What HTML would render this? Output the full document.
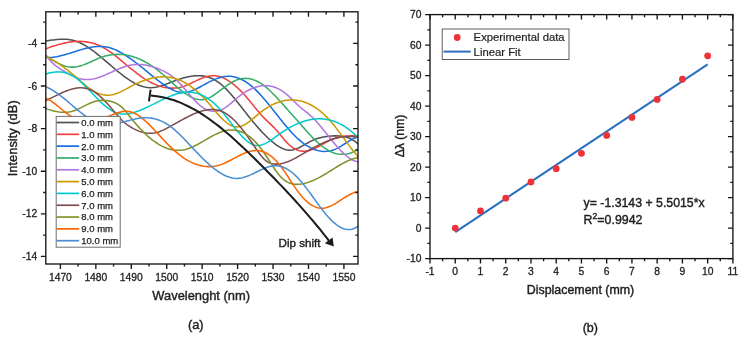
<!DOCTYPE html><html><head><meta charset="utf-8"><style>html,body{margin:0;padding:0;background:#fff;}svg{display:block;will-change:transform;}text{font-family:"Liberation Sans", sans-serif;fill:#1e1e1e;stroke:#1e1e1e;stroke-width:0.4px;}</style></head><body>
<svg width="744" height="339" viewBox="0 0 744 339">
<rect width="744" height="339" fill="#fff"/>
<defs><clipPath id="ca"><rect x="45.8" y="11.8" width="312.2" height="252.2"/></clipPath></defs>
<g clip-path="url(#ca)" fill="none" stroke-width="1.55" stroke-linejoin="round" stroke-linecap="round">
<path stroke="#515151" d="M43,41.3 44.5,41.11 46,40.91 47.5,40.71 49,40.5 50.5,40.29 52,40.09 53.5,39.9 55,39.72 56.5,39.57 58,39.43 59.5,39.33 61,39.25 62.5,39.21 64,39.21 65.5,39.25 67,39.35 68.5,39.49 70,39.69 71.5,39.96 73,40.29 74.5,40.69 76,41.16 77.5,41.71 79,42.32 80.5,43 82,43.74 83.5,44.54 85,45.39 86.5,46.3 88,47.26 89.5,48.26 91,49.3 92.5,50.38 94,51.5 95.5,52.65 97,53.83 98.5,55.04 100,56.26 101.5,57.51 103,58.77 104.5,60.05 106,61.33 107.5,62.62 109,63.92 110.5,65.21 112,66.5 113.5,67.78 115,69.05 116.5,70.3 118,71.54 119.5,72.76 121,73.95 122.5,75.12 124,76.26 125.5,77.36 127,78.42 128.5,79.45 130,80.43 131.5,81.36 133,82.24 134.5,83.07 136,83.84 137.5,84.55 139,85.2 140.5,85.78 142,86.29 143.5,86.72 145,87.08 146.5,87.36 148,87.55 149.5,87.66 151,87.67 152.5,87.6 154,87.45 155.5,87.23 157,86.94 158.5,86.59 160,86.19 161.5,85.74 163,85.25 164.5,84.73 166,84.19 167.5,83.63 169,83.06 170.5,82.48 172,81.91 173.5,81.35 175,80.79 176.5,80.25 178,79.73 179.5,79.22 181,78.74 182.5,78.28 184,77.85 185.5,77.45 187,77.08 188.5,76.75 190,76.46 191.5,76.21 193,76 194.5,75.84 196,75.74 197.5,75.69 199,75.69 200.5,75.76 202,75.88 203.5,76.08 205,76.34 206.5,76.68 208,77.09 209.5,77.59 211,78.16 212.5,78.82 214,79.56 215.5,80.4 217,81.33 218.5,82.36 220,83.49 221.5,84.71 223,86.02 224.5,87.42 226,88.9 227.5,90.45 229,92.06 230.5,93.73 232,95.46 233.5,97.23 235,99.04 236.5,100.89 238,102.77 239.5,104.67 241,106.58 242.5,108.51 244,110.43 245.5,112.36 247,114.28 248.5,116.18 250,118.06 251.5,119.91 253,121.74 254.5,123.54 256,125.3 257.5,127.03 259,128.72 260.5,130.38 262,131.99 263.5,133.56 265,135.08 266.5,136.55 268,137.97 269.5,139.35 271,140.66 272.5,141.92 274,143.12 275.5,144.26 277,145.32 278.5,146.3 280,147.19 281.5,147.98 283,148.66 284.5,149.23 286,149.67 287.5,149.98 289,150.14 290.5,150.16 292,150.02 293.5,149.74 295,149.32 296.5,148.79 298,148.17 299.5,147.46 301,146.69 302.5,145.87 304,145.02 305.5,144.16 307,143.3 308.5,142.46 310,141.65 311.5,140.9 313,140.21 314.5,139.59 316,139.02 317.5,138.51 319,138.06 320.5,137.66 322,137.31 323.5,137 325,136.74 326.5,136.51 328,136.33 329.5,136.17 331,136.05 332.5,135.96 334,135.89 335.5,135.85 337,135.86 338.5,135.9 340,136 341.5,136.16 343,136.38 344.5,136.68 346,137.06 347.5,137.52 349,138.09 350.5,138.75 352,139.53 353.5,140.42 355,141.43 356.5,142.58 358,143.87 359.5,145.3"/>
<path stroke="#F14040" d="M43,49.81 44.5,49.25 46,48.7 47.5,48.16 49,47.62 50.5,47.1 52,46.6 53.5,46.1 55,45.63 56.5,45.17 58,44.73 59.5,44.31 61,43.92 62.5,43.54 64,43.19 65.5,42.87 67,42.58 68.5,42.31 70,42.08 71.5,41.87 73,41.7 74.5,41.56 76,41.46 77.5,41.4 79,41.38 80.5,41.39 82,41.45 83.5,41.55 85,41.69 86.5,41.88 88,42.12 89.5,42.4 91,42.74 92.5,43.13 94,43.56 95.5,44.06 97,44.61 98.5,45.21 100,45.88 101.5,46.6 103,47.39 104.5,48.23 106,49.13 107.5,50.08 109,51.07 110.5,52.11 112,53.19 113.5,54.31 115,55.46 116.5,56.63 118,57.83 119.5,59.05 121,60.28 122.5,61.53 124,62.78 125.5,64.04 127,65.3 128.5,66.56 130,67.81 131.5,69.04 133,70.27 134.5,71.47 136,72.65 137.5,73.8 139,74.93 140.5,76.01 142,77.06 143.5,78.07 145,79.04 146.5,79.96 148,80.84 149.5,81.68 151,82.47 152.5,83.21 154,83.91 155.5,84.55 157,85.15 158.5,85.69 160,86.19 161.5,86.63 163,87.02 164.5,87.35 166,87.62 167.5,87.84 169,88 170.5,88.1 172,88.14 173.5,88.12 175,88.04 176.5,87.9 178,87.69 179.5,87.41 181,87.07 182.5,86.66 184,86.18 185.5,85.64 187,85.05 188.5,84.41 190,83.74 191.5,83.04 193,82.32 194.5,81.59 196,80.87 197.5,80.16 199,79.47 200.5,78.8 202,78.18 203.5,77.6 205,77.08 206.5,76.63 208,76.26 209.5,75.96 211,75.77 212.5,75.67 214,75.69 215.5,75.8 217,76.02 218.5,76.33 220,76.74 221.5,77.25 223,77.84 224.5,78.53 226,79.3 227.5,80.15 229,81.08 230.5,82.1 232,83.19 233.5,84.35 235,85.58 236.5,86.88 238,88.25 239.5,89.68 241,91.17 242.5,92.73 244,94.33 245.5,95.99 247,97.71 248.5,99.47 250,101.27 251.5,103.12 253,104.99 254.5,106.86 256,108.73 257.5,110.57 259,112.36 260.5,114.1 262,115.77 263.5,117.35 265,118.86 266.5,120.33 268,121.76 269.5,123.18 271,124.62 272.5,126.08 274,127.59 275.5,129.18 277,130.84 278.5,132.6 280,134.42 281.5,136.27 283,138.1 284.5,139.9 286,141.61 287.5,143.22 289,144.68 290.5,145.99 292,147.13 293.5,148.12 295,148.97 296.5,149.67 298,150.23 299.5,150.66 301,150.95 302.5,151.13 304,151.18 305.5,151.12 307,150.94 308.5,150.67 310,150.29 311.5,149.81 313,149.24 314.5,148.6 316,147.89 317.5,147.12 319,146.32 320.5,145.48 322,144.62 323.5,143.75 325,142.89 326.5,142.05 328,141.23 329.5,140.46 331,139.74 332.5,139.08 334,138.5 335.5,138 337,137.56 338.5,137.19 340,136.87 341.5,136.61 343,136.4 344.5,136.23 346,136.09 347.5,135.99 349,135.92 350.5,135.86 352,135.83 353.5,135.8 355,135.78 356.5,135.75 358,135.72 359.5,135.68"/>
<path stroke="#1A6FDF" d="M43,57.33 44.5,57.48 46,57.56 47.5,57.59 49,57.56 50.5,57.48 52,57.35 53.5,57.18 55,56.96 56.5,56.71 58,56.41 59.5,56.09 61,55.74 62.5,55.36 64,54.95 65.5,54.53 67,54.09 68.5,53.63 70,53.17 71.5,52.69 73,52.21 74.5,51.74 76,51.26 77.5,50.79 79,50.32 80.5,49.87 82,49.43 83.5,49.01 85,48.61 86.5,48.23 88,47.88 89.5,47.56 91,47.28 92.5,47.03 94,46.82 95.5,46.65 97,46.53 98.5,46.45 100,46.43 101.5,46.47 103,46.56 104.5,46.71 106,46.93 107.5,47.22 109,47.58 110.5,48 112,48.48 113.5,49.03 115,49.63 116.5,50.29 118,51.01 119.5,51.77 121,52.58 122.5,53.44 124,54.34 125.5,55.28 127,56.25 128.5,57.26 130,58.31 131.5,59.38 133,60.48 134.5,61.61 136,62.75 137.5,63.92 139,65.1 140.5,66.29 142,67.5 143.5,68.72 145,69.94 146.5,71.16 148,72.39 149.5,73.62 151,74.84 152.5,76.05 154,77.25 155.5,78.45 157,79.62 158.5,80.78 160,81.92 161.5,83.03 163,84.11 164.5,85.15 166,86.15 167.5,87.1 169,87.99 170.5,88.81 172,89.57 173.5,90.26 175,90.86 176.5,91.38 178,91.8 179.5,92.12 181,92.34 182.5,92.45 184,92.45 185.5,92.33 187,92.1 188.5,91.78 190,91.36 191.5,90.87 193,90.31 194.5,89.69 196,89.01 197.5,88.28 199,87.52 200.5,86.73 202,85.92 203.5,85.1 205,84.28 206.5,83.46 208,82.66 209.5,81.88 211,81.13 212.5,80.42 214,79.75 215.5,79.13 217,78.56 218.5,78.04 220,77.58 221.5,77.18 223,76.85 224.5,76.59 226,76.4 227.5,76.29 229,76.27 230.5,76.33 232,76.48 233.5,76.72 235,77.04 236.5,77.45 238,77.95 239.5,78.53 241,79.19 242.5,79.93 244,80.75 245.5,81.65 247,82.63 248.5,83.69 250,84.83 251.5,86.03 253,87.32 254.5,88.67 256,90.1 257.5,91.6 259,93.16 260.5,94.77 262,96.44 263.5,98.15 265,99.91 266.5,101.7 268,103.52 269.5,105.38 271,107.25 272.5,109.14 274,111.04 275.5,112.94 277,114.85 278.5,116.76 280,118.65 281.5,120.53 283,122.39 284.5,124.23 286,126.04 287.5,127.82 289,129.55 290.5,131.24 292,132.89 293.5,134.47 295,136 296.5,137.47 298,138.86 299.5,140.19 301,141.45 302.5,142.64 304,143.76 305.5,144.81 307,145.78 308.5,146.68 310,147.5 311.5,148.25 313,148.93 314.5,149.52 316,150.04 317.5,150.47 319,150.83 320.5,151.1 322,151.29 323.5,151.4 325,151.42 326.5,151.35 328,151.2 329.5,150.96 331,150.64 332.5,150.22 334,149.71 335.5,149.11 337,148.42 338.5,147.64 340,146.79 341.5,145.89 343,144.95 344.5,143.99 346,143.02 347.5,142.06 349,141.13 350.5,140.24 352,139.4 353.5,138.64 355,137.97 356.5,137.4 358,136.95 359.5,136.64"/>
<path stroke="#37AD6B" d="M43,53.97 44.5,54.97 46,55.96 47.5,56.94 49,57.91 50.5,58.87 52,59.79 53.5,60.69 55,61.55 56.5,62.37 58,63.15 59.5,63.87 61,64.54 62.5,65.14 64,65.68 65.5,66.14 67,66.52 68.5,66.82 70,67.02 71.5,67.13 73,67.14 74.5,67.06 76,66.87 77.5,66.61 79,66.27 80.5,65.86 82,65.39 83.5,64.87 85,64.3 86.5,63.69 88,63.05 89.5,62.4 91,61.72 92.5,61.04 94,60.36 95.5,59.69 97,59.04 98.5,58.41 100,57.81 101.5,57.26 103,56.74 104.5,56.28 106,55.87 107.5,55.51 109,55.2 110.5,54.93 112,54.72 113.5,54.55 115,54.43 116.5,54.36 118,54.33 119.5,54.36 121,54.43 122.5,54.54 124,54.71 125.5,54.92 127,55.17 128.5,55.48 130,55.82 131.5,56.22 133,56.66 134.5,57.14 136,57.67 137.5,58.24 139,58.86 140.5,59.52 142,60.22 143.5,60.97 145,61.76 146.5,62.59 148,63.47 149.5,64.39 151,65.35 152.5,66.35 154,67.4 155.5,68.48 157,69.61 158.5,70.78 160,71.99 161.5,73.24 163,74.52 164.5,75.83 166,77.17 167.5,78.51 169,79.87 170.5,81.24 172,82.59 173.5,83.94 175,85.28 176.5,86.59 178,87.88 179.5,89.13 181,90.35 182.5,91.51 184,92.63 185.5,93.68 187,94.68 188.5,95.6 190,96.44 191.5,97.2 193,97.87 194.5,98.45 196,98.93 197.5,99.29 199,99.55 200.5,99.68 202,99.68 203.5,99.56 205,99.29 206.5,98.89 208,98.35 209.5,97.68 211,96.89 212.5,95.99 214,95 215.5,93.95 217,92.84 218.5,91.7 220,90.56 221.5,89.42 223,88.29 224.5,87.18 226,86.1 227.5,85.06 229,84.07 230.5,83.13 232,82.25 233.5,81.45 235,80.73 236.5,80.09 238,79.56 239.5,79.12 241,78.79 242.5,78.55 244,78.41 245.5,78.37 247,78.43 248.5,78.58 250,78.83 251.5,79.18 253,79.61 254.5,80.15 256,80.77 257.5,81.48 259,82.29 260.5,83.19 262,84.17 263.5,85.24 265,86.4 266.5,87.63 268,88.93 269.5,90.3 271,91.72 272.5,93.2 274,94.73 275.5,96.29 277,97.89 278.5,99.52 280,101.17 281.5,102.84 283,104.52 284.5,106.21 286,107.89 287.5,109.57 289,111.24 290.5,112.91 292,114.57 293.5,116.24 295,117.91 296.5,119.58 298,121.27 299.5,122.98 301,124.69 302.5,126.41 304,128.13 305.5,129.84 307,131.53 308.5,133.2 310,134.84 311.5,136.43 313,137.98 314.5,139.48 316,140.92 317.5,142.3 319,143.63 320.5,144.89 322,146.09 323.5,147.22 325,148.28 326.5,149.26 328,150.16 329.5,150.99 331,151.73 332.5,152.38 334,152.94 335.5,153.42 337,153.79 338.5,154.07 340,154.26 341.5,154.35 343,154.34 344.5,154.24 346,154.06 347.5,153.78 349,153.41 350.5,152.95 352,152.4 353.5,151.77 355,151.04 356.5,150.24 358,149.35 359.5,148.37"/>
<path stroke="#B177DE" d="M43,50.51 44.5,52.97 46,55.21 47.5,57.27 49,59.14 50.5,60.85 52,62.41 53.5,63.83 55,65.14 56.5,66.34 58,67.44 59.5,68.48 61,69.45 62.5,70.37 64,71.26 65.5,72.14 67,72.99 68.5,73.82 70,74.62 71.5,75.38 73,76.09 74.5,76.76 76,77.37 77.5,77.92 79,78.4 80.5,78.8 82,79.13 83.5,79.36 85,79.51 86.5,79.57 88,79.55 89.5,79.45 91,79.28 92.5,79.04 94,78.74 95.5,78.38 97,77.96 98.5,77.5 100,76.99 101.5,76.44 103,75.86 104.5,75.25 106,74.61 107.5,73.95 109,73.28 110.5,72.6 112,71.92 113.5,71.23 115,70.55 116.5,69.89 118,69.24 119.5,68.61 121,68.01 122.5,67.44 124,66.91 125.5,66.42 127,65.97 128.5,65.58 130,65.25 131.5,64.98 133,64.77 134.5,64.61 136,64.51 137.5,64.46 139,64.47 140.5,64.53 142,64.64 143.5,64.8 145,65 146.5,65.26 148,65.56 149.5,65.91 151,66.29 152.5,66.72 154,67.2 155.5,67.71 157,68.26 158.5,68.84 160,69.47 161.5,70.13 163,70.83 164.5,71.59 166,72.4 167.5,73.27 169,74.21 170.5,75.22 172,76.3 173.5,77.46 175,78.71 176.5,80.06 178,81.49 179.5,83.02 181,84.63 182.5,86.29 184,88.01 185.5,89.75 187,91.52 188.5,93.29 190,95.05 191.5,96.78 193,98.47 194.5,100.11 196,101.67 197.5,103.16 199,104.54 200.5,105.81 202,106.96 203.5,107.97 205,108.85 206.5,109.6 208,110.21 209.5,110.7 211,111.04 212.5,111.26 214,111.33 215.5,111.27 217,111.08 218.5,110.75 220,110.28 221.5,109.68 223,108.95 224.5,108.09 226,107.13 227.5,106.05 229,104.88 230.5,103.65 232,102.37 233.5,101.07 235,99.77 236.5,98.49 238,97.25 239.5,96.07 241,94.94 242.5,93.88 244,92.87 245.5,91.92 247,91.03 248.5,90.2 250,89.44 251.5,88.74 253,88.11 254.5,87.55 256,87.06 257.5,86.64 259,86.29 260.5,86.01 262,85.81 263.5,85.68 265,85.63 266.5,85.66 268,85.77 269.5,85.96 271,86.24 272.5,86.6 274,87.04 275.5,87.57 277,88.19 278.5,88.89 280,89.69 281.5,90.58 283,91.56 284.5,92.64 286,93.82 287.5,95.09 289,96.44 290.5,97.86 292,99.33 293.5,100.81 295,102.3 296.5,103.76 298,105.18 299.5,106.53 301,107.81 302.5,109.04 304,110.24 305.5,111.42 307,112.61 308.5,113.84 310,115.13 311.5,116.49 313,117.94 314.5,119.47 316,121.08 317.5,122.75 319,124.48 320.5,126.26 322,128.07 323.5,129.92 325,131.79 326.5,133.67 328,135.55 329.5,137.43 331,139.29 332.5,141.14 334,142.95 335.5,144.74 337,146.47 338.5,148.16 340,149.79 341.5,151.34 343,152.83 344.5,154.23 346,155.54 347.5,156.75 349,157.85 350.5,158.84 352,159.71 353.5,160.45 355,161.05 356.5,161.5 358,161.8 359.5,161.94"/>
<path stroke="#CC9900" d="M43,55.05 44.5,55.71 46,56.4 47.5,57.13 49,57.9 50.5,58.7 52,59.54 53.5,60.41 55,61.31 56.5,62.25 58,63.22 59.5,64.22 61,65.25 62.5,66.32 64,67.41 65.5,68.53 67,69.68 68.5,70.86 70,72.06 71.5,73.3 73,74.56 74.5,75.84 76,77.14 77.5,78.46 79,79.78 80.5,81.1 82,82.4 83.5,83.68 85,84.93 86.5,86.14 88,87.3 89.5,88.41 91,89.45 92.5,90.41 94,91.29 95.5,92.09 97,92.79 98.5,93.41 100,93.94 101.5,94.38 103,94.72 104.5,94.98 106,95.13 107.5,95.2 109,95.16 110.5,95.03 112,94.8 113.5,94.47 115,94.05 116.5,93.55 118,92.98 119.5,92.34 121,91.65 122.5,90.92 124,90.15 125.5,89.36 127,88.56 128.5,87.74 130,86.94 131.5,86.14 133,85.37 134.5,84.62 136,83.9 137.5,83.21 139,82.54 140.5,81.91 142,81.3 143.5,80.73 145,80.19 146.5,79.69 148,79.23 149.5,78.8 151,78.41 152.5,78.06 154,77.75 155.5,77.48 157,77.26 158.5,77.08 160,76.95 161.5,76.87 163,76.83 164.5,76.84 166,76.91 167.5,77.03 169,77.2 170.5,77.42 172,77.71 173.5,78.04 175,78.44 176.5,78.9 178,79.42 179.5,80 181,80.64 182.5,81.35 184,82.12 185.5,82.95 187,83.84 188.5,84.79 190,85.81 191.5,86.88 193,88.02 194.5,89.21 196,90.47 197.5,91.78 199,93.14 200.5,94.57 202,96.05 203.5,97.59 205,99.19 206.5,100.84 208,102.54 209.5,104.29 211,106.06 212.5,107.85 214,109.64 215.5,111.42 217,113.17 218.5,114.88 220,116.53 221.5,118.11 223,119.6 224.5,120.99 226,122.25 227.5,123.38 229,124.37 230.5,125.21 232,125.89 233.5,126.4 235,126.74 236.5,126.89 238,126.85 239.5,126.62 241,126.22 242.5,125.66 244,124.97 245.5,124.15 247,123.22 248.5,122.19 250,121.09 251.5,119.92 253,118.7 254.5,117.45 256,116.19 257.5,114.92 259,113.67 260.5,112.45 262,111.27 263.5,110.14 265,109.08 266.5,108.08 268,107.13 269.5,106.25 271,105.42 272.5,104.65 274,103.94 275.5,103.29 277,102.69 278.5,102.15 280,101.68 281.5,101.25 283,100.89 284.5,100.59 286,100.34 287.5,100.15 289,100.01 290.5,99.94 292,99.92 293.5,99.96 295,100.06 296.5,100.23 298,100.45 299.5,100.73 301,101.08 302.5,101.48 304,101.95 305.5,102.49 307,103.08 308.5,103.74 310,104.47 311.5,105.26 313,106.11 314.5,107.03 316,108.02 317.5,109.08 319,110.2 320.5,111.39 322,112.65 323.5,113.98 325,115.38 326.5,116.85 328,118.39 329.5,120 331,121.69 332.5,123.44 334,125.27 335.5,127.16 337,129.11 338.5,131.1 340,133.12 341.5,135.17 343,137.23 344.5,139.3 346,141.36 347.5,143.4 349,145.41 350.5,147.39 352,149.31 353.5,151.18 355,152.99 356.5,154.71 358,156.34 359.5,157.88"/>
<path stroke="#00CBCC" d="M43,74.97 44.5,74.43 46,73.93 47.5,73.48 49,73.08 50.5,72.73 52,72.44 53.5,72.2 55,72.03 56.5,71.93 58,71.89 59.5,71.93 61,72.04 62.5,72.23 64,72.5 65.5,72.86 67,73.3 68.5,73.84 70,74.47 71.5,75.2 73,76.03 74.5,76.96 76,78 77.5,79.12 79,80.33 80.5,81.62 82,82.97 83.5,84.38 85,85.85 86.5,87.35 88,88.88 89.5,90.44 91,92.01 92.5,93.58 94,95.15 95.5,96.72 97,98.26 98.5,99.78 100,101.26 101.5,102.69 103,104.08 104.5,105.41 106,106.67 107.5,107.85 109,108.95 110.5,109.96 112,110.88 113.5,111.68 115,112.37 116.5,112.93 118,113.37 119.5,113.69 121,113.91 122.5,114.02 124,114.05 125.5,113.98 127,113.84 128.5,113.63 130,113.36 131.5,113.04 133,112.66 134.5,112.24 136,111.77 137.5,111.26 139,110.72 140.5,110.14 142,109.53 143.5,108.89 145,108.22 146.5,107.53 148,106.83 149.5,106.11 151,105.37 152.5,104.63 154,103.88 155.5,103.12 157,102.37 158.5,101.62 160,100.88 161.5,100.14 163,99.42 164.5,98.71 166,98.03 167.5,97.36 169,96.72 170.5,96.11 172,95.53 173.5,94.99 175,94.48 176.5,94.01 178,93.59 179.5,93.22 181,92.89 182.5,92.62 184,92.41 185.5,92.26 187,92.16 188.5,92.14 190,92.19 191.5,92.3 193,92.49 194.5,92.75 196,93.08 197.5,93.49 199,93.98 200.5,94.54 202,95.18 203.5,95.9 205,96.7 206.5,97.57 208,98.53 209.5,99.57 211,100.7 212.5,101.91 214,103.2 215.5,104.58 217,106.05 218.5,107.6 220,109.24 221.5,110.97 223,112.76 224.5,114.6 226,116.5 227.5,118.42 229,120.37 230.5,122.32 232,124.27 233.5,126.21 235,128.12 236.5,129.99 238,131.82 239.5,133.58 241,135.26 242.5,136.86 244,138.37 245.5,139.76 247,141.03 248.5,142.17 250,143.16 251.5,144 253,144.67 254.5,145.16 256,145.45 257.5,145.55 259,145.47 260.5,145.23 262,144.84 263.5,144.31 265,143.66 266.5,142.91 268,142.06 269.5,141.13 271,140.15 272.5,139.11 274,138.04 275.5,136.95 277,135.85 278.5,134.77 280,133.71 281.5,132.68 283,131.68 284.5,130.71 286,129.77 287.5,128.86 289,127.99 290.5,127.16 292,126.35 293.5,125.59 295,124.86 296.5,124.17 298,123.51 299.5,122.9 301,122.32 302.5,121.79 304,121.3 305.5,120.85 307,120.44 308.5,120.07 310,119.75 311.5,119.48 313,119.25 314.5,119.07 316,118.93 317.5,118.85 319,118.81 320.5,118.82 322,118.89 323.5,119 325,119.17 326.5,119.39 328,119.66 329.5,119.99 331,120.37 332.5,120.81 334,121.31 335.5,121.86 337,122.47 338.5,123.14 340,123.87 341.5,124.67 343,125.52 344.5,126.44 346,127.41 347.5,128.46 349,129.56 350.5,130.74 352,131.97 353.5,133.28 355,134.65 356.5,136.09 358,137.6 359.5,139.19"/>
<path stroke="#7D4E4E" d="M43,101.7 44.5,101.08 46,100.44 47.5,99.77 49,99.07 50.5,98.36 52,97.63 53.5,96.89 55,96.15 56.5,95.41 58,94.68 59.5,93.96 61,93.25 62.5,92.57 64,91.91 65.5,91.28 67,90.68 68.5,90.13 70,89.62 71.5,89.16 73,88.76 74.5,88.42 76,88.14 77.5,87.94 79,87.8 80.5,87.75 82,87.78 83.5,87.91 85,88.12 86.5,88.44 88,88.86 89.5,89.39 91,90.03 92.5,90.8 94,91.68 95.5,92.68 97,93.78 98.5,94.98 100,96.27 101.5,97.65 103,99.09 104.5,100.61 106,102.18 107.5,103.8 109,105.47 110.5,107.17 112,108.9 113.5,110.65 115,112.41 116.5,114.18 118,115.93 119.5,117.62 121,119.24 122.5,120.74 124,122.11 125.5,123.37 127,124.53 128.5,125.59 130,126.57 131.5,127.48 133,128.33 134.5,129.13 136,129.86 137.5,130.52 139,131.12 140.5,131.65 142,132.11 143.5,132.5 145,132.82 146.5,133.05 148,133.21 149.5,133.29 151,133.28 152.5,133.19 154,133.01 155.5,132.74 157,132.38 158.5,131.93 160,131.4 161.5,130.8 163,130.14 164.5,129.43 166,128.68 167.5,127.89 169,127.09 170.5,126.27 172,125.44 173.5,124.6 175,123.76 176.5,122.92 178,122.07 179.5,121.24 181,120.4 182.5,119.58 184,118.77 185.5,117.97 187,117.19 188.5,116.42 190,115.68 191.5,114.97 193,114.28 194.5,113.63 196,113 197.5,112.42 199,111.87 200.5,111.37 202,110.92 203.5,110.52 205,110.18 206.5,109.9 208,109.68 209.5,109.53 211,109.46 212.5,109.46 214,109.54 215.5,109.71 217,109.96 218.5,110.31 220,110.75 221.5,111.29 223,111.94 224.5,112.69 226,113.56 227.5,114.54 229,115.63 230.5,116.83 232,118.13 233.5,119.53 235,121.01 236.5,122.59 238,124.24 239.5,125.98 241,127.78 242.5,129.65 244,131.59 245.5,133.58 247,135.63 248.5,137.73 250,139.86 251.5,142.04 253,144.25 254.5,146.49 256,148.72 257.5,150.9 259,153.01 260.5,155 262,156.84 263.5,158.5 265,159.94 266.5,161.13 268,162.09 269.5,162.84 271,163.4 272.5,163.79 274,164.03 275.5,164.14 277,164.14 278.5,164.05 280,163.87 281.5,163.6 283,163.26 284.5,162.84 286,162.35 287.5,161.81 289,161.2 290.5,160.55 292,159.84 293.5,159.1 295,158.32 296.5,157.51 298,156.67 299.5,155.81 301,154.94 302.5,154.06 304,153.17 305.5,152.28 307,151.4 308.5,150.53 310,149.68 311.5,148.83 313,148 314.5,147.19 316,146.39 317.5,145.62 319,144.86 320.5,144.13 322,143.42 323.5,142.74 325,142.09 326.5,141.46 328,140.86 329.5,140.29 331,139.76 332.5,139.26 334,138.79 335.5,138.37 337,137.98 338.5,137.63 340,137.32 341.5,137.06 343,136.84 344.5,136.67 346,136.54 347.5,136.46 349,136.44 350.5,136.46 352,136.54 353.5,136.67 355,136.86 356.5,137.11 358,137.41 359.5,137.78"/>
<path stroke="#80922A" d="M43,107.42 44.5,108.01 46,108.57 47.5,109.11 49,109.62 50.5,110.09 52,110.53 53.5,110.92 55,111.28 56.5,111.58 58,111.84 59.5,112.04 61,112.19 62.5,112.28 64,112.31 65.5,112.28 67,112.17 68.5,112 70,111.75 71.5,111.42 73,111.02 74.5,110.53 76,109.96 77.5,109.32 79,108.64 80.5,107.91 82,107.16 83.5,106.39 85,105.62 86.5,104.86 88,104.13 89.5,103.43 91,102.78 92.5,102.2 94,101.7 95.5,101.27 97,100.93 98.5,100.66 100,100.47 101.5,100.36 103,100.33 104.5,100.38 106,100.5 107.5,100.7 109,100.97 110.5,101.32 112,101.75 113.5,102.25 115,102.84 116.5,103.55 118,104.39 119.5,105.38 121,106.54 122.5,107.9 124,109.44 125.5,111.12 127,112.91 128.5,114.78 130,116.68 131.5,118.57 133,120.43 134.5,122.24 136,124.01 137.5,125.73 139,127.39 140.5,129.01 142,130.58 143.5,132.1 145,133.56 146.5,134.97 148,136.32 149.5,137.62 151,138.86 152.5,140.05 154,141.17 155.5,142.24 157,143.24 158.5,144.18 160,145.06 161.5,145.88 163,146.63 164.5,147.31 166,147.93 167.5,148.48 169,148.96 170.5,149.37 172,149.71 173.5,149.98 175,150.18 176.5,150.3 178,150.34 179.5,150.31 181,150.21 182.5,150.02 184,149.76 185.5,149.42 187,149 188.5,148.51 190,147.96 191.5,147.35 193,146.69 194.5,145.98 196,145.23 197.5,144.45 199,143.63 200.5,142.8 202,141.94 203.5,141.07 205,140.2 206.5,139.33 208,138.46 209.5,137.6 211,136.76 212.5,135.94 214,135.15 215.5,134.39 217,133.68 218.5,133.01 220,132.39 221.5,131.83 223,131.33 224.5,130.9 226,130.54 227.5,130.26 229,130.07 230.5,129.96 232,129.93 233.5,129.99 235,130.14 236.5,130.39 238,130.72 239.5,131.15 241,131.67 242.5,132.3 244,133.02 245.5,133.85 247,134.77 248.5,135.81 250,136.95 251.5,138.2 253,139.56 254.5,141.04 256,142.63 257.5,144.33 259,146.13 260.5,148.04 262,150.03 263.5,152.1 265,154.24 266.5,156.44 268,158.71 269.5,161.02 271,163.36 272.5,165.69 274,167.99 275.5,170.21 277,172.32 278.5,174.29 280,176.08 281.5,177.66 283,179.05 284.5,180.26 286,181.29 287.5,182.15 289,182.85 290.5,183.41 292,183.83 293.5,184.13 295,184.3 296.5,184.37 298,184.34 299.5,184.23 301,184.03 302.5,183.77 304,183.44 305.5,183.07 307,182.64 308.5,182.16 310,181.64 311.5,181.07 313,180.46 314.5,179.81 316,179.11 317.5,178.38 319,177.61 320.5,176.81 322,175.98 323.5,175.11 325,174.23 326.5,173.32 328,172.39 329.5,171.46 331,170.52 332.5,169.58 334,168.64 335.5,167.7 337,166.78 338.5,165.88 340,164.99 341.5,164.14 343,163.31 344.5,162.51 346,161.76 347.5,161.04 349,160.38 350.5,159.76 352,159.21 353.5,158.71 355,158.29 356.5,157.93 358,157.65 359.5,157.44"/>
<path stroke="#FB6501" d="M43,97.39 44.5,97.79 46,98.34 47.5,99.02 49,99.81 50.5,100.71 52,101.69 53.5,102.76 55,103.88 56.5,105.06 58,106.28 59.5,107.51 61,108.76 62.5,110.01 64,111.24 65.5,112.45 67,113.61 68.5,114.72 70,115.76 71.5,116.72 73,117.58 74.5,118.35 76,119.03 77.5,119.61 79,120.11 80.5,120.52 82,120.85 83.5,121.1 85,121.28 86.5,121.38 88,121.41 89.5,121.37 91,121.27 92.5,121.11 94,120.89 95.5,120.61 97,120.28 98.5,119.9 100,119.47 101.5,119 103,118.48 104.5,117.93 106,117.34 107.5,116.73 109,116.11 110.5,115.49 112,114.87 113.5,114.27 115,113.7 116.5,113.16 118,112.68 119.5,112.25 121,111.88 122.5,111.6 124,111.41 125.5,111.31 127,111.32 128.5,111.45 130,111.7 131.5,112.1 133,112.62 134.5,113.27 136,114.03 137.5,114.9 139,115.88 140.5,116.95 142,118.1 143.5,119.33 145,120.64 146.5,122.01 148,123.43 149.5,124.91 151,126.43 152.5,127.98 154,129.56 155.5,131.16 157,132.77 158.5,134.38 160,136 161.5,137.61 163,139.22 164.5,140.81 166,142.38 167.5,143.92 169,145.44 170.5,146.92 172,148.37 173.5,149.77 175,151.12 176.5,152.41 178,153.66 179.5,154.85 181,155.99 182.5,157.07 184,158.1 185.5,159.07 187,159.99 188.5,160.84 190,161.65 191.5,162.39 193,163.08 194.5,163.71 196,164.27 197.5,164.78 199,165.23 200.5,165.62 202,165.95 203.5,166.21 205,166.41 206.5,166.55 208,166.63 209.5,166.64 211,166.59 212.5,166.47 214,166.29 215.5,166.04 217,165.73 218.5,165.34 220,164.89 221.5,164.38 223,163.8 224.5,163.17 226,162.49 227.5,161.78 229,161.03 230.5,160.26 232,159.47 233.5,158.67 235,157.87 236.5,157.07 238,156.28 239.5,155.52 241,154.78 242.5,154.08 244,153.41 245.5,152.8 247,152.24 248.5,151.74 250,151.32 251.5,150.97 253,150.7 254.5,150.53 256,150.46 257.5,150.5 259,150.64 260.5,150.91 262,151.31 263.5,151.83 265,152.46 266.5,153.22 268,154.1 269.5,155.1 271,156.21 272.5,157.45 274,158.79 275.5,160.26 277,161.84 278.5,163.53 280,165.33 281.5,167.24 283,169.26 284.5,171.39 286,173.61 287.5,175.89 289,178.22 290.5,180.56 292,182.89 293.5,185.18 295,187.42 296.5,189.59 298,191.65 299.5,193.61 301,195.46 302.5,197.19 304,198.81 305.5,200.31 307,201.68 308.5,202.93 310,204.05 311.5,205.04 313,205.9 314.5,206.63 316,207.23 317.5,207.69 319,208.02 320.5,208.21 322,208.25 323.5,208.16 325,207.94 326.5,207.58 328,207.11 329.5,206.54 331,205.88 332.5,205.14 334,204.32 335.5,203.46 337,202.55 338.5,201.6 340,200.63 341.5,199.66 343,198.68 344.5,197.72 346,196.78 347.5,195.88 349,195.03 350.5,194.24 352,193.52 353.5,192.88 355,192.33 356.5,191.9 358,191.58 359.5,191.39"/>
<path stroke="#4A8ED4" d="M43,85.88 44.5,86.35 46,86.91 47.5,87.54 49,88.25 50.5,89.04 52,89.88 53.5,90.79 55,91.76 56.5,92.78 58,93.84 59.5,94.95 61,96.1 62.5,97.28 64,98.48 65.5,99.71 67,100.96 68.5,102.23 70,103.5 71.5,104.77 73,106.05 74.5,107.32 76,108.58 77.5,109.82 79,111.05 80.5,112.25 82,113.42 83.5,114.56 85,115.66 86.5,116.72 88,117.73 89.5,118.68 91,119.58 92.5,120.41 94,121.18 95.5,121.88 97,122.5 98.5,123.04 100,123.49 101.5,123.85 103,124.12 104.5,124.32 106,124.44 107.5,124.49 109,124.47 110.5,124.4 112,124.26 113.5,124.08 115,123.85 116.5,123.59 118,123.29 119.5,122.96 121,122.6 122.5,122.23 124,121.84 125.5,121.44 127,121.04 128.5,120.64 130,120.24 131.5,119.86 133,119.5 134.5,119.15 136,118.84 137.5,118.55 139,118.3 140.5,118.1 142,117.94 143.5,117.83 145,117.78 146.5,117.78 148,117.84 149.5,117.95 151,118.13 152.5,118.36 154,118.66 155.5,119.03 157,119.45 158.5,119.95 160,120.51 161.5,121.14 163,121.85 164.5,122.62 166,123.47 167.5,124.4 169,125.4 170.5,126.48 172,127.63 173.5,128.85 175,130.13 176.5,131.47 178,132.86 179.5,134.29 181,135.77 182.5,137.27 184,138.81 185.5,140.38 187,141.96 188.5,143.55 190,145.16 191.5,146.76 193,148.37 194.5,149.96 196,151.55 197.5,153.12 199,154.67 200.5,156.2 202,157.71 203.5,159.19 205,160.63 206.5,162.05 208,163.43 209.5,164.76 211,166.06 212.5,167.31 214,168.51 215.5,169.65 217,170.74 218.5,171.77 220,172.74 221.5,173.65 223,174.48 224.5,175.25 226,175.94 227.5,176.55 229,177.08 230.5,177.53 232,177.89 233.5,178.16 235,178.33 236.5,178.41 238,178.39 239.5,178.27 241,178.04 242.5,177.73 244,177.33 245.5,176.86 247,176.32 248.5,175.73 250,175.09 251.5,174.41 253,173.71 254.5,172.98 256,172.25 257.5,171.51 259,170.77 260.5,170.05 262,169.36 263.5,168.7 265,168.08 266.5,167.52 268,167.01 269.5,166.57 271,166.21 272.5,165.94 274,165.76 275.5,165.69 277,165.73 278.5,165.89 280,166.18 281.5,166.58 283,167.1 284.5,167.74 286,168.48 287.5,169.33 289,170.29 290.5,171.35 292,172.51 293.5,173.77 295,175.12 296.5,176.56 298,178.09 299.5,179.7 301,181.4 302.5,183.18 304,185.03 305.5,186.93 307,188.89 308.5,190.9 310,192.93 311.5,195 313,197.07 314.5,199.16 316,201.24 317.5,203.31 319,205.35 320.5,207.37 322,209.35 323.5,211.28 325,213.15 326.5,214.96 328,216.69 329.5,218.34 331,219.89 332.5,221.36 334,222.72 335.5,223.97 337,225.12 338.5,226.14 340,227.05 341.5,227.82 343,228.46 344.5,228.96 346,229.31 347.5,229.52 349,229.56 350.5,229.44 352,229.16 353.5,228.7 355,228.06 356.5,227.23 358,226.22 359.5,225"/>
</g>
<path d="M150.6,95.6 154.7,95.9 158.7,96.5 162.7,97.2 166.6,98.1 170.4,99.2 174.2,100.3 177.9,101.7 181.5,103.2 185.1,104.8 188.6,106.5 192.1,108.3 195.6,110.2 198.9,112.2 202.3,114.4 205.6,116.5 208.8,118.8 212.0,121.1 215.2,123.5 218.4,125.9 221.5,128.4 224.6,131.0 227.6,133.5 230.6,136.1 233.6,138.8 236.6,141.5 239.5,144.2 242.5,146.9 245.4,149.7 248.3,152.4 251.1,155.2 254.0,158.0 256.8,160.8 259.7,163.7 262.5,166.5 265.3,169.3 268.1,172.2 270.9,175.0 273.7,177.8 276.5,180.7 279.2,183.6 282.0,186.4 284.7,189.3 287.4,192.2 290.1,195.1 292.8,198.0 295.5,201.0 298.1,203.9 300.8,206.9 303.4,209.8 306.0,212.8 308.6,215.8 311.2,218.9 313.8,221.9 316.3,225.0 318.9,228.0 321.4,231.2 323.9,234.3 326.4,237.4 328.8,240.6" fill="none" stroke="#1c1c1c" stroke-width="2.0" stroke-linecap="butt"/>
<path d="M150.6,89.6L148.9,101.4" fill="none" stroke="#1c1c1c" stroke-width="2.0"/>
<path d="M333.8,246.4L324.8,243.2L332.6,237.6Z" fill="#1c1c1c"/>
<rect x="56.2" y="116.4" width="64" height="130.8" fill="#fff" stroke="#6e6e6e" stroke-width="1"/>
<line x1="56.6" y1="122.5" x2="79.2" y2="122.5" stroke="#515151" stroke-width="1.7"/>
<text x="81.3" y="125.9" font-size="9.5" style="stroke-width:0.25px">0.0 mm</text>
<line x1="56.6" y1="134.32" x2="79.2" y2="134.32" stroke="#F14040" stroke-width="1.7"/>
<text x="81.3" y="137.72" font-size="9.5" style="stroke-width:0.25px">1.0 mm</text>
<line x1="56.6" y1="146.14" x2="79.2" y2="146.14" stroke="#1A6FDF" stroke-width="1.7"/>
<text x="81.3" y="149.54" font-size="9.5" style="stroke-width:0.25px">2.0 mm</text>
<line x1="56.6" y1="157.96" x2="79.2" y2="157.96" stroke="#37AD6B" stroke-width="1.7"/>
<text x="81.3" y="161.36" font-size="9.5" style="stroke-width:0.25px">3.0 mm</text>
<line x1="56.6" y1="169.78" x2="79.2" y2="169.78" stroke="#B177DE" stroke-width="1.7"/>
<text x="81.3" y="173.18" font-size="9.5" style="stroke-width:0.25px">4.0 mm</text>
<line x1="56.6" y1="181.6" x2="79.2" y2="181.6" stroke="#CC9900" stroke-width="1.7"/>
<text x="81.3" y="185" font-size="9.5" style="stroke-width:0.25px">5.0 mm</text>
<line x1="56.6" y1="193.42" x2="79.2" y2="193.42" stroke="#00CBCC" stroke-width="1.7"/>
<text x="81.3" y="196.82" font-size="9.5" style="stroke-width:0.25px">6.0 mm</text>
<line x1="56.6" y1="205.24" x2="79.2" y2="205.24" stroke="#7D4E4E" stroke-width="1.7"/>
<text x="81.3" y="208.64" font-size="9.5" style="stroke-width:0.25px">7.0 mm</text>
<line x1="56.6" y1="217.06" x2="79.2" y2="217.06" stroke="#80922A" stroke-width="1.7"/>
<text x="81.3" y="220.46" font-size="9.5" style="stroke-width:0.25px">8.0 mm</text>
<line x1="56.6" y1="228.88" x2="79.2" y2="228.88" stroke="#FB6501" stroke-width="1.7"/>
<text x="81.3" y="232.28" font-size="9.5" style="stroke-width:0.25px">9.0 mm</text>
<line x1="56.6" y1="240.7" x2="79.2" y2="240.7" stroke="#4A8ED4" stroke-width="1.7"/>
<text x="81.3" y="244.1" font-size="9.5" style="stroke-width:0.25px">10.0 mm</text>
<rect x="45.8" y="11.8" width="312.2" height="252.2" fill="none" stroke="#151515" stroke-width="1.35"/>
<text x="60.4" y="280.7" font-size="10.3" text-anchor="middle" style="stroke-width:0.3px">1470</text>
<text x="95.84" y="280.7" font-size="10.3" text-anchor="middle" style="stroke-width:0.3px">1480</text>
<text x="131.28" y="280.7" font-size="10.3" text-anchor="middle" style="stroke-width:0.3px">1490</text>
<text x="166.72" y="280.7" font-size="10.3" text-anchor="middle" style="stroke-width:0.3px">1500</text>
<text x="202.16" y="280.7" font-size="10.3" text-anchor="middle" style="stroke-width:0.3px">1510</text>
<text x="237.6" y="280.7" font-size="10.3" text-anchor="middle" style="stroke-width:0.3px">1520</text>
<text x="273.04" y="280.7" font-size="10.3" text-anchor="middle" style="stroke-width:0.3px">1530</text>
<text x="308.48" y="280.7" font-size="10.3" text-anchor="middle" style="stroke-width:0.3px">1540</text>
<text x="343.92" y="280.7" font-size="10.3" text-anchor="middle" style="stroke-width:0.3px">1550</text>
<text x="37.2" y="47" font-size="10.3" text-anchor="end" style="stroke-width:0.3px">-4</text>
<text x="37.2" y="89.6" font-size="10.3" text-anchor="end" style="stroke-width:0.3px">-6</text>
<text x="37.2" y="132.2" font-size="10.3" text-anchor="end" style="stroke-width:0.3px">-8</text>
<text x="37.2" y="174.8" font-size="10.3" text-anchor="end" style="stroke-width:0.3px">-10</text>
<text x="37.2" y="217.4" font-size="10.3" text-anchor="end" style="stroke-width:0.3px">-12</text>
<text x="37.2" y="260" font-size="10.3" text-anchor="end" style="stroke-width:0.3px">-14</text>
<path d="M60.4,264v4.9M60.4,11.8v4.9M78.12,264v2.6M78.12,11.8v2.6M95.84,264v4.9M95.84,11.8v4.9M113.56,264v2.6M113.56,11.8v2.6M131.28,264v4.9M131.28,11.8v4.9M149,264v2.6M149,11.8v2.6M166.72,264v4.9M166.72,11.8v4.9M184.44,264v2.6M184.44,11.8v2.6M202.16,264v4.9M202.16,11.8v4.9M219.88,264v2.6M219.88,11.8v2.6M237.6,264v4.9M237.6,11.8v4.9M255.32,264v2.6M255.32,11.8v2.6M273.04,264v4.9M273.04,11.8v4.9M290.76,264v2.6M290.76,11.8v2.6M308.48,264v4.9M308.48,11.8v4.9M326.2,264v2.6M326.2,11.8v2.6M343.92,264v4.9M343.92,11.8v4.9M45.8,22.1h-2.6M358,22.1h-2.6M45.8,43.4h-4.9M358,43.4h-4.9M45.8,64.7h-2.6M358,64.7h-2.6M45.8,86h-4.9M358,86h-4.9M45.8,107.3h-2.6M358,107.3h-2.6M45.8,128.6h-4.9M358,128.6h-4.9M45.8,149.9h-2.6M358,149.9h-2.6M45.8,171.2h-4.9M358,171.2h-4.9M45.8,192.5h-2.6M358,192.5h-2.6M45.8,213.8h-4.9M358,213.8h-4.9M45.8,235.1h-2.6M358,235.1h-2.6M45.8,256.4h-4.9M358,256.4h-4.9" stroke="#151515" stroke-width="1.35" fill="none"/>
<text x="201.2" y="300.1" font-size="12.9" text-anchor="middle">Wavelenght (nm)</text>
<text transform="translate(16.8,138.3) rotate(-90)" font-size="12.9" text-anchor="middle">Intensity (dB)</text>
<text x="195.8" y="329.2" font-size="12.8" text-anchor="middle">(a)</text>
<text x="278.6" y="247.1" font-size="11.6">Dip shift</text>
<line x1="455.24" y1="232.11" x2="707.66" y2="64.31" stroke="#2a6fbf" stroke-width="2"/>
<circle cx="455.24" cy="228.1" r="3.4" fill="#ee3237"/>
<circle cx="480.48" cy="210.9" r="3.4" fill="#ee3237"/>
<circle cx="505.73" cy="198.18" r="3.4" fill="#ee3237"/>
<circle cx="530.97" cy="181.98" r="3.4" fill="#ee3237"/>
<circle cx="556.21" cy="168.69" r="3.4" fill="#ee3237"/>
<circle cx="581.45" cy="153.28" r="3.4" fill="#ee3237"/>
<circle cx="606.69" cy="135.38" r="3.4" fill="#ee3237"/>
<circle cx="631.93" cy="117.39" r="3.4" fill="#ee3237"/>
<circle cx="657.17" cy="99.39" r="3.4" fill="#ee3237"/>
<circle cx="682.42" cy="79.26" r="3.4" fill="#ee3237"/>
<circle cx="707.66" cy="55.78" r="3.4" fill="#ee3237"/>
<rect x="442.2" y="29" width="126.8" height="30.5" fill="#fff" stroke="#4d4d4d" stroke-width="0.9"/>
<circle cx="457.2" cy="37.5" r="3.4" fill="#ee3237"/>
<line x1="443.5" y1="51.6" x2="470.8" y2="51.6" stroke="#2a6fbf" stroke-width="2"/>
<text x="473.6" y="40.9" font-size="11.3" style="stroke-width:0.2px">Experimental data</text>
<text x="473.6" y="55.6" font-size="11.3" style="stroke-width:0.2px">Linear Fit</text>
<text x="583.6" y="207.4" font-size="12.3">y= -1.3143 + 5.5015*x</text>
<text x="583.6" y="224" font-size="12.4">R<tspan dy="-4.8" font-size="8.6">2</tspan><tspan dy="4.8">=0.9942</tspan></text>
<rect x="430" y="14.6" width="302.9" height="244" fill="none" stroke="#151515" stroke-width="1.35"/>
<text x="430" y="275" font-size="10.3" text-anchor="middle" style="stroke-width:0.3px">-1</text>
<text x="455.24" y="275" font-size="10.3" text-anchor="middle" style="stroke-width:0.3px">0</text>
<text x="480.48" y="275" font-size="10.3" text-anchor="middle" style="stroke-width:0.3px">1</text>
<text x="505.73" y="275" font-size="10.3" text-anchor="middle" style="stroke-width:0.3px">2</text>
<text x="530.97" y="275" font-size="10.3" text-anchor="middle" style="stroke-width:0.3px">3</text>
<text x="556.21" y="275" font-size="10.3" text-anchor="middle" style="stroke-width:0.3px">4</text>
<text x="581.45" y="275" font-size="10.3" text-anchor="middle" style="stroke-width:0.3px">5</text>
<text x="606.69" y="275" font-size="10.3" text-anchor="middle" style="stroke-width:0.3px">6</text>
<text x="631.93" y="275" font-size="10.3" text-anchor="middle" style="stroke-width:0.3px">7</text>
<text x="657.17" y="275" font-size="10.3" text-anchor="middle" style="stroke-width:0.3px">8</text>
<text x="682.42" y="275" font-size="10.3" text-anchor="middle" style="stroke-width:0.3px">9</text>
<text x="707.66" y="275" font-size="10.3" text-anchor="middle" style="stroke-width:0.3px">10</text>
<text x="732.9" y="275" font-size="10.3" text-anchor="middle" style="stroke-width:0.3px">11</text>
<text x="421.4" y="262.2" font-size="10.3" text-anchor="end" style="stroke-width:0.3px">-10</text>
<text x="421.4" y="231.7" font-size="10.3" text-anchor="end" style="stroke-width:0.3px">0</text>
<text x="421.4" y="201.2" font-size="10.3" text-anchor="end" style="stroke-width:0.3px">10</text>
<text x="421.4" y="170.7" font-size="10.3" text-anchor="end" style="stroke-width:0.3px">20</text>
<text x="421.4" y="140.2" font-size="10.3" text-anchor="end" style="stroke-width:0.3px">30</text>
<text x="421.4" y="109.7" font-size="10.3" text-anchor="end" style="stroke-width:0.3px">40</text>
<text x="421.4" y="79.2" font-size="10.3" text-anchor="end" style="stroke-width:0.3px">50</text>
<text x="421.4" y="48.7" font-size="10.3" text-anchor="end" style="stroke-width:0.3px">60</text>
<text x="421.4" y="18.2" font-size="10.3" text-anchor="end" style="stroke-width:0.3px">70</text>
<path d="M430,258.6v4.9M430,14.6v4.9M442.62,258.6v2.6M442.62,14.6v2.6M455.24,258.6v4.9M455.24,14.6v4.9M467.86,258.6v2.6M467.86,14.6v2.6M480.48,258.6v4.9M480.48,14.6v4.9M493.1,258.6v2.6M493.1,14.6v2.6M505.73,258.6v4.9M505.73,14.6v4.9M518.35,258.6v2.6M518.35,14.6v2.6M530.97,258.6v4.9M530.97,14.6v4.9M543.59,258.6v2.6M543.59,14.6v2.6M556.21,258.6v4.9M556.21,14.6v4.9M568.83,258.6v2.6M568.83,14.6v2.6M581.45,258.6v4.9M581.45,14.6v4.9M594.07,258.6v2.6M594.07,14.6v2.6M606.69,258.6v4.9M606.69,14.6v4.9M619.31,258.6v2.6M619.31,14.6v2.6M631.93,258.6v4.9M631.93,14.6v4.9M644.55,258.6v2.6M644.55,14.6v2.6M657.17,258.6v4.9M657.17,14.6v4.9M669.8,258.6v2.6M669.8,14.6v2.6M682.42,258.6v4.9M682.42,14.6v4.9M695.04,258.6v2.6M695.04,14.6v2.6M707.66,258.6v4.9M707.66,14.6v4.9M720.28,258.6v2.6M720.28,14.6v2.6M732.9,258.6v4.9M732.9,14.6v4.9M430,258.6h-4.9M732.9,258.6h-4.9M430,243.35h-2.6M732.9,243.35h-2.6M430,228.1h-4.9M732.9,228.1h-4.9M430,212.85h-2.6M732.9,212.85h-2.6M430,197.6h-4.9M732.9,197.6h-4.9M430,182.35h-2.6M732.9,182.35h-2.6M430,167.1h-4.9M732.9,167.1h-4.9M430,151.85h-2.6M732.9,151.85h-2.6M430,136.6h-4.9M732.9,136.6h-4.9M430,121.35h-2.6M732.9,121.35h-2.6M430,106.1h-4.9M732.9,106.1h-4.9M430,90.85h-2.6M732.9,90.85h-2.6M430,75.6h-4.9M732.9,75.6h-4.9M430,60.35h-2.6M732.9,60.35h-2.6M430,45.1h-4.9M732.9,45.1h-4.9M430,29.85h-2.6M732.9,29.85h-2.6M430,14.6h-4.9M732.9,14.6h-4.9" stroke="#151515" stroke-width="1.35" fill="none"/>
<text x="580.5" y="293.8" font-size="12.4" text-anchor="middle">Displacement (mm)</text>
<text transform="translate(404,136) rotate(-90)" font-size="12.2" text-anchor="middle">&#916;&#955; (nm)</text>
<text x="590.3" y="332" font-size="12.5" text-anchor="middle">(b)</text>
</svg></body></html>
